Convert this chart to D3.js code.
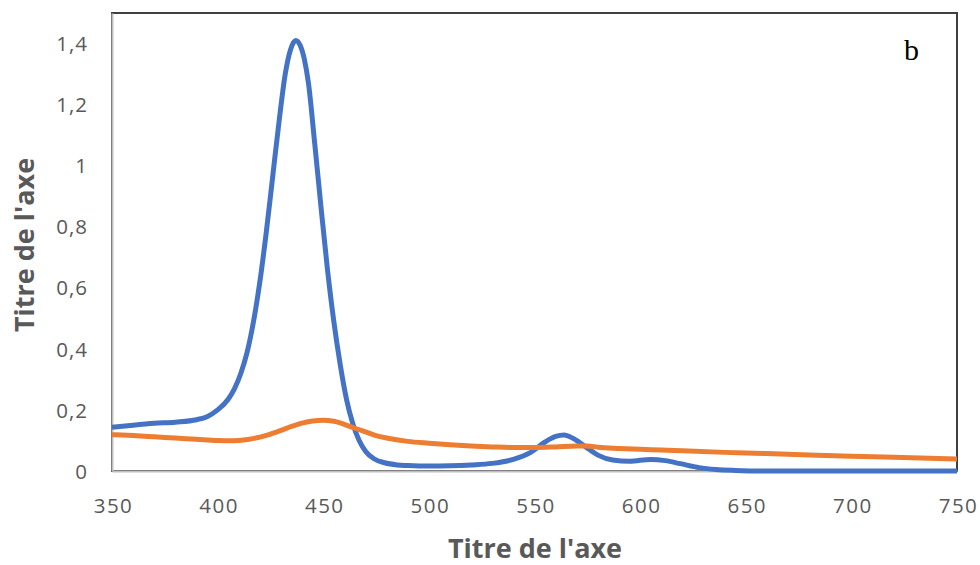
<!DOCTYPE html>
<html><head><meta charset="utf-8">
<script src="https://cdn.jsdelivr.net/npm/d3@7"></script>
<style>body{margin:0;background:#fff}svg{display:block}</style>
</head><body>
<svg id="c" width="980" height="565"></svg>
<script>
const xTicks = [350,400,450,500,550,600,650,700,750];
const yTicks = [0,0.2,0.4,0.6,0.8,1,1.2,1.4];
const yTickLabels = ["0","0,2","0,4","0,6","0,8","1","1,2","1,4"];
const xTitle = "Titre de l'axe";
const yTitle = "Titre de l'axe";
const panelLabel = "b";

const blueX = [350,360,370,380,390,395,400,405,408,411,414,417,420,423,426,429,432,434.5,437,439,441,443,446,449,452,455,458,461,464,467,470,474,479,485,490,500,510,520,530,540,548,555,560,564,568,574,580,587,595,605,612,619,628,636,645,660,700,750];
const blueY = [0.143,0.150,0.156,0.160,0.168,0.178,0.200,0.235,0.27,0.32,0.39,0.49,0.62,0.78,0.96,1.14,1.30,1.38,1.41,1.395,1.35,1.27,1.07,0.86,0.66,0.49,0.35,0.235,0.155,0.10,0.065,0.04,0.027,0.02,0.018,0.016,0.017,0.02,0.025,0.038,0.06,0.095,0.113,0.118,0.108,0.08,0.052,0.036,0.032,0.038,0.034,0.024,0.011,0.005,0.002,0.0,0.0,0.0];

const orangeX = [350,360,370,380,390,400,405,410,415,420,425,430,435,440,445,450,455,460,465,470,475,480,490,500,510,520,530,540,550,560,570,575,580,590,600,610,620,640,660,680,700,720,750];
const orangeY = [0.119,0.116,0.112,0.108,0.104,0.100,0.099,0.100,0.104,0.111,0.121,0.133,0.146,0.157,0.164,0.166,0.163,0.153,0.140,0.128,0.116,0.108,0.097,0.091,0.086,0.082,0.079,0.077,0.077,0.079,0.082,0.082,0.078,0.074,0.071,0.069,0.066,0.061,0.057,0.052,0.048,0.045,0.039];

const svg = d3.select("#c");
const L = 112, R = 957, T = 13, B = 471;
const x = d3.scaleLinear().domain([350,750]).range([L,R]);
const y = d3.scaleLinear().domain([0,1.5]).range([B,T]);
const font = "'Open Sans', sans-serif";
const grey = "#595959";

svg.append("rect").attr("x",L).attr("y",T).attr("width",R-L).attr("height",B-T)
  .attr("fill","none").attr("stroke","#404040").attr("stroke-width",2);

const xAxis = d3.axisBottom(x).tickValues(xTicks).tickSize(0).tickFormat(d3.format("d"));
const gx = svg.append("g").attr("transform",`translate(0,${B})`).call(xAxis);
gx.select(".domain").attr("stroke","#bfbfbf").attr("stroke-width",2);
gx.selectAll("text").attr("font-family",font).attr("font-size",20.5).attr("fill",grey)
  .attr("letter-spacing","1.5px").attr("y",0).attr("dy",null).attr("transform","translate(1,42)");

const yAxis = d3.axisLeft(y).tickValues(yTicks).tickSize(0).tickFormat((d,i)=>yTickLabels[i]);
const gy = svg.append("g").attr("transform",`translate(${L},0)`).call(yAxis);
gy.select(".domain").attr("stroke","#bfbfbf").attr("stroke-width",2);
gy.selectAll("text").attr("font-family",font).attr("font-size",20.5).attr("fill",grey)
  .attr("letter-spacing","1px").attr("x",-24).attr("dy","0.35em");

const line = d3.line().x(d=>x(d[0])).y(d=>y(d[1])).curve(d3.curveMonotoneX);
const blue = blueX.map((v,i)=>[v,blueY[i]]);
const orange = orangeX.map((v,i)=>[v,orangeY[i]]);
svg.append("path").datum(blue).attr("d",line).attr("fill","none")
  .attr("stroke","#4472C4").attr("stroke-width",5).attr("stroke-linejoin","round");
svg.append("path").datum(orange).attr("d",line).attr("fill","none")
  .attr("stroke","#ED7D31").attr("stroke-width",5).attr("stroke-linejoin","round");

svg.append("text").attr("x",535).attr("y",558).attr("text-anchor","middle")
  .attr("font-family",font).attr("font-weight","bold").attr("font-size",27).attr("fill",grey).text(xTitle);
svg.append("text").attr("transform","translate(34,245) rotate(-90)").attr("text-anchor","middle")
  .attr("font-family",font).attr("font-weight","bold").attr("font-size",27).attr("fill",grey).text(yTitle);

svg.append("text").attr("x",904).attr("y",60).attr("font-family","'Liberation Serif', serif")
  .attr("font-size",30).attr("fill","#000").text(panelLabel);
</script>
</body></html>
